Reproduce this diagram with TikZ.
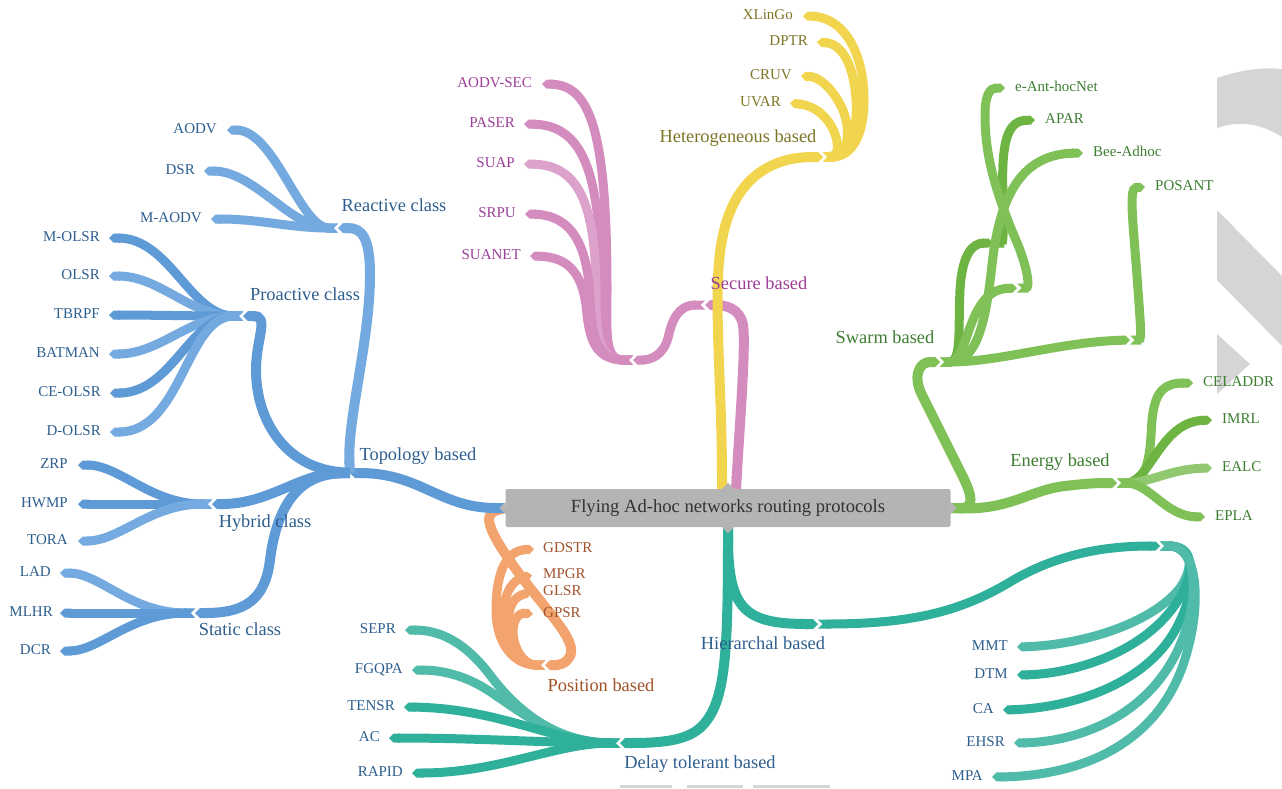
\documentclass[tikz,border=0pt]{standalone}
\usepackage{fontspec}
\setmainfont{Liberation Serif}
\usetikzlibrary{arrows.meta}
\pgfdeclarelayer{links}
\pgfsetlayers{links,main}
\definecolor{blueB}{HTML}{5E9AD6}
\definecolor{blueL}{HTML}{74AADF}
\definecolor{blueT}{HTML}{2D5E8E}
\definecolor{pinkB}{HTML}{D48CBE}
\definecolor{pinkL}{HTML}{DCA2CC}
\definecolor{pinkT}{HTML}{9C3E98}
\definecolor{yelB}{HTML}{F2D54E}
\definecolor{yelT}{HTML}{7D7426}
\definecolor{grnB}{HTML}{7FC057}
\definecolor{grnD}{HTML}{6EB443}
\definecolor{grnT}{HTML}{3E7D32}
\definecolor{orgB}{HTML}{F3A46E}
\definecolor{orgT}{HTML}{A0532B}
\definecolor{tealB}{HTML}{2FB09A}
\definecolor{tealL}{HTML}{4FBBA8}
\definecolor{grayBox}{HTML}{B4B4B4}
\definecolor{grayDeco}{HTML}{D5D5D5}
\definecolor{inkC}{HTML}{333333}
\begin{document}
\begin{tikzpicture}[x=1pt,y=-1pt,
  trunk/.style={draw=#1, line width=10pt, arrows={Butt Cap}-{Triangle Cap}},
  twig/.style={draw=#1, line width=9pt, arrows={Triangle Cap[reversed]}-{Triangle Cap}},
  leaf/.style={font=\fontsize{15}{15}\selectfont, text height=10pt, text depth=3pt, inner sep=0pt, text=#1},
  cat/.style={font=\fontsize{18.4}{18.4}\selectfont, text height=12.5pt, text depth=4pt, inner sep=0pt, text=#1},
]
\useasboundingbox (0,0) rectangle (1282,788);

% decorative grey shapes at the right border and bottom
\fill[grayDeco] (1217,78) .. controls (1240,70) and (1262,67) .. (1282,69) -- (1282,137)
  .. controls (1262,124) and (1240,120) .. (1217,128) -- cycle;
\fill[grayDeco] (1217,210) -- (1282,276) -- (1282,346) -- (1217,280) -- cycle;
\fill[grayDeco] (1217,334) -- (1250,364) -- (1217,394) -- cycle;
\fill[grayDeco] (620,785) rectangle (672,788);
\fill[grayDeco] (687,785) rectangle (743,788);
\fill[grayDeco] (753,785) rectangle (830,788);

% central node with its four pointers
\node[fill=grayBox, minimum width=445pt, minimum height=38pt, inner sep=0pt,
  rounded corners=2pt, text=inkC, font=\fontsize{18.6}{18.6}\selectfont] (root) at (728,508)
  {Flying Ad-hoc networks routing protocols};
\fill[grayBox] ([yshift=6pt]root.west) -- ([xshift=-6pt]root.west) -- ([yshift=-6pt]root.west) -- cycle;
\fill[grayBox] ([yshift=6pt]root.east) -- ([xshift=6pt]root.east) -- ([yshift=-6pt]root.east) -- cycle;
\fill[grayBox] ([xshift=-6pt]root.north) -- ([yshift=6pt]root.north) -- ([xshift=6pt]root.north) -- cycle;
\fill[grayBox] ([xshift=-6pt]root.south) -- ([yshift=-6pt]root.south) -- ([xshift=6pt]root.south) -- cycle;

% hubs
\coordinate (hTopo) at (350,473);
\coordinate (hReact) at (338,228);
\coordinate (hProact) at (243,316);
\coordinate (hHybrid) at (212,504);
\coordinate (hStatic) at (195,613);
\coordinate (hSecure) at (705,305);
\coordinate (hSecSub) at (633,360);
\coordinate (hHetero) at (823,157);
\coordinate (hSwarm) at (940,362);
\coordinate (hSwA) at (993,243);
\coordinate (hSwB) at (1017,288);
\coordinate (hSwC) at (1130,340);
\coordinate (hEnergy) at (1117,483);
\coordinate (hPos) at (545,665);
\coordinate (hHier) at (818,624);
\coordinate (hHierSub) at (1160,546);
\coordinate (hDelay) at (620,743);

% ---------- labels: topology branch ----------
\node[leaf=blueT, anchor=east] (aodv) at (217,130) {AODV};
\node[leaf=blueT, anchor=east] (dsr) at (195,171) {DSR};
\node[leaf=blueT, anchor=east] (maodv) at (202,219) {M-AODV};
\node[leaf=blueT, anchor=east] (molsr) at (100,238) {M-OLSR};
\node[leaf=blueT, anchor=east] (olsr) at (100,276) {OLSR};
\node[leaf=blueT, anchor=east] (tbrpf) at (100,315) {TBRPF};
\node[leaf=blueT, anchor=east] (batman) at (100,354) {BATMAN};
\node[leaf=blueT, anchor=east] (ceolsr) at (101,393) {CE-OLSR};
\node[leaf=blueT, anchor=east] (dolsr) at (101,432) {D-OLSR};
\node[leaf=blueT, anchor=east] (zrp) at (68,465) {ZRP};
\node[leaf=blueT, anchor=east] (hwmp) at (68,504) {HWMP};
\node[leaf=blueT, anchor=east] (tora) at (68,541) {TORA};
\node[leaf=blueT, anchor=east] (lad) at (51,573) {LAD};
\node[leaf=blueT, anchor=east] (mlhr) at (53,613) {MLHR};
\node[leaf=blueT, anchor=east] (dcr) at (51,651) {DCR};

% ---------- labels: secure branch ----------
\node[leaf=pinkT, anchor=east] (aodvsec) at (532,84) {AODV-SEC};
\node[leaf=pinkT, anchor=east] (paser) at (515,124) {PASER};
\node[leaf=pinkT, anchor=east] (suap) at (515,164) {SUAP};
\node[leaf=pinkT, anchor=east] (srpu) at (516,214) {SRPU};
\node[leaf=pinkT, anchor=east] (suanet) at (521,256) {SUANET};

% ---------- labels: heterogeneous branch ----------
\node[leaf=yelT, anchor=east] (xlingo) at (793,16) {XLinGo};
\node[leaf=yelT, anchor=east] (dptr) at (808,42) {DPTR};
\node[leaf=yelT, anchor=east] (cruv) at (792,76) {CRUV};
\node[leaf=yelT, anchor=east] (uvar) at (781,103) {UVAR};

% ---------- labels: swarm and energy branches ----------
\node[leaf=grnT, anchor=west] (eant) at (1015,88) {e-Ant-hocNet};
\node[leaf=grnT, anchor=west] (apar) at (1045,120) {APAR};
\node[leaf=grnT, anchor=west] (bee) at (1093,153) {Bee-Adhoc};
\node[leaf=grnT, anchor=west] (posant) at (1155,187) {POSANT};
\node[leaf=grnT, anchor=west] (celaddr) at (1203,383) {CELADDR};
\node[leaf=grnT, anchor=west] (imrl) at (1222,420) {IMRL};
\node[leaf=grnT, anchor=west] (ealc) at (1222,468) {EALC};
\node[leaf=grnT, anchor=west] (epla) at (1215,517) {EPLA};

% ---------- labels: position branch ----------
\node[leaf=orgT, anchor=west] (gdstr) at (543,549) {GDSTR};
\node[leaf=orgT, anchor=west] (mpgr) at (543,575) {MPGR};
\node[leaf=orgT, anchor=west] (glsr) at (543,592) {GLSR};
\node[leaf=orgT, anchor=west] (gpsr) at (543,614) {GPSR};

% ---------- labels: delay tolerant and hierarchal branches ----------
\node[leaf=blueT, anchor=east] (sepr) at (396,630) {SEPR};
\node[leaf=blueT, anchor=east] (fgqpa) at (403,670) {FGQPA};
\node[leaf=blueT, anchor=east] (tensr) at (395,707) {TENSR};
\node[leaf=blueT, anchor=east] (ac) at (380,738) {AC};
\node[leaf=blueT, anchor=east] (rapid) at (403,773) {RAPID};
\node[leaf=blueT, anchor=east] (mmt) at (1008,647) {MMT};
\node[leaf=blueT, anchor=east] (dtm) at (1008,675) {DTM};
\node[leaf=blueT, anchor=east] (ca) at (994,710) {CA};
\node[leaf=blueT, anchor=east] (ehsr) at (1005,743) {EHSR};
\node[leaf=blueT, anchor=east] (mpa) at (983,777) {MPA};

% category labels
\node[cat=blueT] (lReact) at (394,207) {Reactive class};
\node[cat=blueT] (lProact) at (305,296) {Proactive class};
\node[cat=blueT] (lTopo) at (418,456) {Topology based};
\node[cat=blueT] (lHybrid) at (265,523) {Hybrid class};
\node[cat=blueT] (lStatic) at (240,631) {Static class};
\node[cat=pinkT] (lSecure) at (759,285) {Secure based};
\node[cat=yelT] (lHetero) at (738,138) {Heterogeneous based};
\node[cat=grnT] (lSwarm) at (885,339) {Swarm based};
\node[cat=grnT] (lEnergy) at (1060,462) {Energy based};
\node[cat=orgT] (lPos) at (601,687) {Position based};
\node[cat=blueT] (lHier) at (763,645) {Hierarchal based};
\node[cat=blueT] (lDelay) at (700,764) {Delay tolerant based};

% ================= connectors, kept below the nodes =================
\begin{pgfonlayer}{links}
% position branch (orange)
\draw[trunk=orgB] (root.west) .. controls (480,515) and (495,540) .. (515,568)
  .. controls (545,610) and (578,640) .. (570,656) .. controls (565,665) and (558,665) .. (hPos);
\draw[twig=orgB] (hPos) .. controls (515,665) and (496,645) .. (496,610)
  .. controls (496,575) and (505,551) .. ([xshift=-9pt]gdstr.west);
\draw[twig=orgB] (hPos) .. controls (518,665) and (503,645) .. (503,618)
  .. controls (503,595) and (512,580) .. ([xshift=-11pt]mpgr.west);
\draw[twig=orgB] (hPos) .. controls (520,665) and (508,645) .. (508,625)
  .. controls (508,605) and (515,597) .. ([xshift=-12pt]glsr.west);
\draw[twig=orgB] (hPos) .. controls (522,665) and (513,645) .. (513,632)
  .. controls (513,618) and (520,613) .. ([xshift=-10pt]gpsr.west);

% topology branch (blue)
\draw[trunk=blueB] (root.west) .. controls (440,508) and (420,473) .. (hTopo);
\draw[trunk=blueL] (hTopo) .. controls (347,420) and (370,340) .. (370,275)
  .. controls (370,238) and (362,228) .. (hReact);
\draw[trunk=blueB] (hTopo) .. controls (285,467) and (256,420) .. (256,370)
  .. controls (256,338) and (270,316) .. (hProact);
\draw[trunk=blueB] (hTopo) .. controls (300,473) and (270,504) .. (hHybrid);
\draw[trunk=blueB] (hTopo) .. controls (290,475) and (275,520) .. (270,560)
  .. controls (265,600) and (245,613) .. (hStatic);

\draw[twig=blueL] (hReact) .. controls (300,228) and (275,130) .. ([xshift=10pt]aodv.east);
\draw[twig=blueL] (hReact) .. controls (290,228) and (255,171) .. ([xshift=9pt]dsr.east);
\draw[twig=blueL] (hReact) .. controls (290,228) and (260,219) .. ([xshift=9pt]maodv.east);

\draw[twig=blueB] (hProact) .. controls (190,316) and (170,238) .. ([xshift=9pt]molsr.east);
\draw[twig=blueL] (hProact) .. controls (190,316) and (160,276) .. ([xshift=9pt]olsr.east);
\draw[twig=blueB] (hProact) .. controls (190,316) and (150,315) .. ([xshift=9pt]tbrpf.east);
\draw[twig=blueL] (hProact) .. controls (190,316) and (160,354) .. ([xshift=9pt]batman.east);
\draw[twig=blueB] (hProact) .. controls (190,316) and (172,393) .. ([xshift=9pt]ceolsr.east);
\draw[twig=blueL] (hProact) .. controls (186,316) and (182,432) .. ([xshift=9pt]dolsr.east);

\draw[twig=blueB] (hHybrid) .. controls (150,504) and (120,465) .. ([xshift=10pt]zrp.east);
\draw[twig=blueB] (hHybrid) -- ([xshift=10pt]hwmp.east);
\draw[twig=blueL] (hHybrid) .. controls (150,504) and (120,541) .. ([xshift=10pt]tora.east);

\draw[twig=blueL] (hStatic) .. controls (130,613) and (100,573) .. ([xshift=9pt]lad.east);
\draw[twig=blueB] (hStatic) -- ([xshift=7pt]mlhr.east);
\draw[twig=blueB] (hStatic) .. controls (130,613) and (100,651) .. ([xshift=9pt]dcr.east);

% secure branch (pink)
\draw[trunk=pinkB] ([xshift=8pt]root.north) .. controls (740,420) and (746,345) .. (743,325)
  .. controls (740,308) and (725,305) .. (hSecure);
\draw[twig=pinkB] (hSecure) .. controls (678,305) and (672,320) .. (668,338)
  .. controls (663,356) and (650,360) .. (hSecSub);
\draw[twig=pinkB] (hSecSub) .. controls (604,360) and (607,335) .. (607,290)
  .. controls (607,130) and (590,85) .. ([xshift=10pt]aodvsec.east);
\draw[twig=pinkB] (hSecSub) .. controls (601,360) and (601,335) .. (601,290)
  .. controls (601,170) and (582,125) .. ([xshift=9pt]paser.east);
\draw[twig=pinkL] (hSecSub) .. controls (598,360) and (596,335) .. (596,295)
  .. controls (596,200) and (577,165) .. ([xshift=9pt]suap.east);
\draw[twig=pinkB] (hSecSub) .. controls (596,360) and (592,335) .. (590,300)
  .. controls (588,245) and (572,215) .. ([xshift=9pt]srpu.east);
\draw[twig=pinkB] (hSecSub) .. controls (596,360) and (590,340) .. (587,315)
  .. controls (584,275) and (570,257) .. ([xshift=9pt]suanet.east);

% heterogeneous branch (yellow)
\draw[trunk=yelB] ([xshift=-6pt]root.north) .. controls (722,380) and (712,290) .. (722,240)
  .. controls (735,170) and (780,157) .. (hHetero);
\draw[twig=yelB] (hHetero) .. controls (852,157) and (864,135) .. (864,100)
  .. controls (864,50) and (842,17) .. ([xshift=10pt]xlingo.east);
\draw[twig=yelB] (hHetero) .. controls (850,157) and (858,130) .. (856,100)
  .. controls (854,65) and (842,44) .. ([xshift=9pt]dptr.east);
\draw[twig=yelB] (hHetero) .. controls (848,157) and (852,130) .. (842,108)
  .. controls (832,87) and (818,77) .. ([xshift=9pt]cruv.east);
\draw[twig=yelB] (hHetero) .. controls (845,155) and (835,108) .. ([xshift=9pt]uvar.east);

% swarm branch (green)
\draw[trunk=grnB] (root.east) .. controls (975,508) and (972,495) .. (962,475) -- (922,395)
  .. controls (912,375) and (920,362) .. (hSwarm);
\draw[twig=grnD] (hSwarm) .. controls (962,362) and (958,330) .. (960,290)
  .. controls (962,255) and (972,243) .. (hSwA);
\draw[twig=grnD] (hSwA) .. controls (1003,243) and (1004,225) .. (1003,195)
  .. controls (1001,140) and (1008,121) .. ([xshift=-10pt]apar.west);
\draw[twig=grnB] (hSwarm) .. controls (970,362) and (966,290) .. (hSwB);
\draw[twig=grnB] (hSwB) .. controls (1030,288) and (1028,270) .. (1018,245)
  .. controls (992,185) and (985,150) .. (985,115)
  .. controls (985,95) and (990,88) .. ([xshift=-10pt]eant.west);
\draw[twig=grnB] (hSwarm) .. controls (975,362) and (985,330) .. (992,265)
  .. controls (1000,190) and (1025,154) .. ([xshift=-10pt]bee.west);
\draw[twig=grnB] (hSwarm) .. controls (1000,362) and (1060,342) .. (hSwC);
\draw[twig=grnB] (hSwC) .. controls (1142,340) and (1140,318) .. (1138,290)
  .. controls (1134,230) and (1128,188) .. ([xshift=-10pt]posant.west);

% energy branch (green)
\draw[trunk=grnB] (root.east) .. controls (1010,510) and (1030,490) .. (1065,486)
  .. controls (1090,483) and (1100,483) .. (hEnergy);
\draw[twig=grnB] (hEnergy) .. controls (1150,483) and (1150,450) .. (1152,420)
  .. controls (1155,390) and (1165,383) .. ([xshift=-10pt]celaddr.west);
\draw[twig=grnD] (hEnergy) .. controls (1150,483) and (1160,422) .. ([xshift=-10pt]imrl.west);
\draw[twig=grnB!85!white] (hEnergy) .. controls (1150,483) and (1170,469) .. ([xshift=-10pt]ealc.west);
\draw[twig=grnB] (hEnergy) .. controls (1150,483) and (1165,516) .. ([xshift=-10pt]epla.west);

% hierarchal branch (teal)
\draw[trunk=tealB] (root.south) .. controls (728,610) and (745,624) .. (hHier);
\draw[twig=tealB] (hHier) .. controls (910,624) and (960,612) .. (1010,582)
  .. controls (1060,552) and (1110,546) .. (hHierSub);
\draw[twig=tealL] (hHierSub) .. controls (1192,546) and (1195,565) .. (1180,588)
  .. controls (1150,625) and (1080,645) .. ([xshift=9pt]mmt.east);
\draw[twig=tealB] (hHierSub) .. controls (1195,546) and (1196,575) .. (1175,605)
  .. controls (1140,655) and (1070,674) .. ([xshift=9pt]dtm.east);
\draw[twig=tealB] (hHierSub) .. controls (1197,546) and (1198,585) .. (1178,625)
  .. controls (1148,685) and (1070,708) .. ([xshift=9pt]ca.east);
\draw[twig=tealL] (hHierSub) .. controls (1198,546) and (1200,600) .. (1180,645)
  .. controls (1150,715) and (1080,742) .. ([xshift=9pt]ehsr.east);
\draw[twig=tealL] (hHierSub) .. controls (1200,546) and (1202,610) .. (1183,665)
  .. controls (1155,745) and (1080,776) .. ([xshift=9pt]mpa.east);

% delay tolerant branch (teal)
\draw[trunk=tealB] (root.south) .. controls (728,660) and (725,705) .. (700,728)
  .. controls (685,741) and (660,743) .. (hDelay);
\draw[twig=tealL] (hDelay) .. controls (560,743) and (520,715) .. (490,675)
  .. controls (465,642) and (440,630) .. ([xshift=9pt]sepr.east);
\draw[twig=tealL] (hDelay) .. controls (560,743) and (525,715) .. (495,695)
  .. controls (470,677) and (445,670) .. ([xshift=9pt]fgqpa.east);
\draw[twig=tealB] (hDelay) .. controls (555,743) and (500,708) .. ([xshift=9pt]tensr.east);
\draw[twig=tealB] (hDelay) .. controls (550,743) and (480,738) .. ([xshift=9pt]ac.east);
\draw[twig=tealB] (hDelay) .. controls (555,743) and (500,773) .. ([xshift=9pt]rapid.east);
\end{pgfonlayer}
\end{tikzpicture}
\end{document}
